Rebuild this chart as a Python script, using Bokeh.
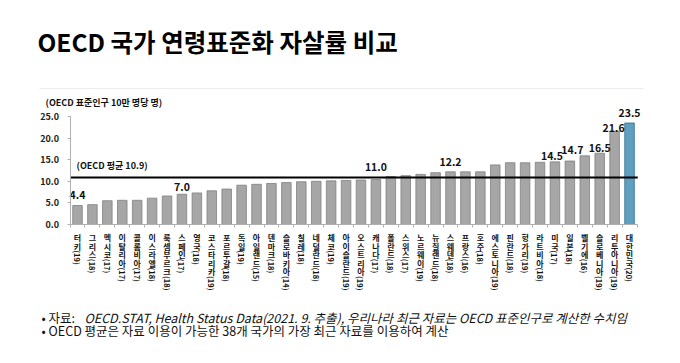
import re
import math
from bokeh.plotting import figure
from bokeh.models import LinearAxis, FixedTicker, NumeralTickFormatter, Range1d
from bokeh.core.properties import value
from bokeh.embed import file_html
from bokeh.resources import INLINE

# ---------------- data ----------------
title_text = "OECD 국가 연령표준화 자살률 비교"
unit_text = "(OECD 표준인구 10만 명당 명)"
countries = [
    "터키(19)", "그리스(18)", "멕시코(17)", "이탈리아(17)", "콜롬비아(17)", "이스라엘(18)",
    "룩셈부르크(18)", "스페인(17)", "영국(18)", "코스타리카(19)", "포르투갈(18)", "독일(19)",
    "아일랜드(15)", "덴마크(18)", "슬로바키아(14)", "칠레(18)", "네덜란드(18)", "체코(19)",
    "아이슬란드(19)", "오스트리아(19)", "캐나다(17)", "폴란드(18)", "스위스(17)", "노르웨이(19)",
    "뉴질랜드(18)", "스웨덴(18)", "프랑스(16)", "호주(18)", "에스토니아(19)", "핀란드(18)",
    "헝가리(19)", "라트비아(18)", "미국(17)", "일본(18)", "벨기에(16)", "슬로베니아(19)",
    "리투아니아(19)", "대한민국(20)",
]
rates = [
    4.4, 4.6, 5.5, 5.6, 5.6, 6.1,
    6.6, 7.0, 7.3, 7.8, 8.2, 9.1,
    9.3, 9.5, 9.7, 9.9, 10.0, 10.1,
    10.2, 10.3, 10.4, 11.1, 11.3, 11.6,
    12.0, 12.2, 12.2, 12.2, 13.8, 14.3,
    14.3, 14.4, 14.5, 14.7, 15.9, 16.5,
    21.6, 23.5,
]
oecd_avg = 10.9
oecd_avg_label = "(OECD 평균 10.9)"
highlight_country = "대한민국(20)"
labelled_countries = ["터키(19)", "스페인(17)", "캐나다(17)", "스웨덴(18)", "미국(17)",
                      "일본(18)", "슬로베니아(19)", "리투아니아(19)", "대한민국(20)"]
label_texts = ["4.4", "7.0", "11.0", "12.2", "14.5", "14.7", "16.5", "21.6", "23.5"]
y_ticks = [0, 5, 10, 15, 20, 25]
note_source_head = "• 자료:"
note_source_body = "OECD.STAT, Health Status Data(2021. 9. 추출), 우리나라 최근 자료는 OECD 표준인구로 계산한 수치임"
note_avg = "• OECD 평균은 자료 이용이 가능한 38개 국가의 가장 최근 자료를 이용하여 계산"

# ---------------- layout (page pixel coords, origin top-left) ----------------
W, H = 680, 363
X0, DX = 62.08, 14.92     # bar i (1-based) centre at X0 + DX*i
Y0, PPU = 224.0, 4.32     # value v at Y0 - PPU*v

# label placement styling: pixel shifts (x right, y up) of each value label
label_dx = [0, 0, 0, 0, -3, 2.5, 0, -1, 0]
label_up = [10, 7, 10, 10, 5.5, 10.5, 5.5, 3, 10]


def dx(px):
    return (px - X0) / DX


def dy(py):
    return (Y0 - py) / PPU


FONT = value("Noto Sans CJK KR")
n = len(countries)
xs = list(range(1, n + 1))

p = figure(width=W, height=H,
           x_range=Range1d(dx(0), dx(W)), y_range=Range1d(dy(H), dy(0)),
           output_backend="svg", toolbar_location=None, min_border=0,
           x_axis_location=None, y_axis_location=None)
p.outline_line_color = None
p.grid.grid_line_color = None
p.background_fill_color = "white"
p.border_fill_color = "white"

# y axis
yaxis = LinearAxis(fixed_location=0.5, bounds=(0, 25),
                   ticker=FixedTicker(ticks=y_ticks),
                   formatter=NumeralTickFormatter(format="0.0"))
yaxis.axis_line_color = "#b0b0b0"
yaxis.major_tick_line_color = "#b0b0b0"
yaxis.major_tick_in = 0
yaxis.major_tick_out = 3
yaxis.minor_tick_out = 0
yaxis.minor_tick_in = 0
yaxis.major_label_text_font = "Noto Sans CJK KR"
yaxis.major_label_text_font_style = "bold"
yaxis.major_label_text_font_size = "9px"
yaxis.major_label_text_color = "#222222"
yaxis.major_label_standoff = 8
p.add_layout(yaxis, "left")

# x axis (ticks between categories, no tick labels)
x_ticks = [i + 0.5 for i in range(n + 1)]
xaxis = LinearAxis(fixed_location=0, bounds=(0.5, n + 0.5),
                   ticker=FixedTicker(ticks=x_ticks),
                   major_label_overrides={t: "" for t in x_ticks})
xaxis.axis_line_color = "#b0b0b0"
xaxis.major_tick_line_color = "#b0b0b0"
xaxis.major_tick_in = 0
xaxis.major_tick_out = 3
xaxis.minor_tick_out = 0
xaxis.minor_tick_in = 0
p.add_layout(xaxis, "below")

# bars
fills = ["#5f9fc0" if c == highlight_country else "#a6a6a6" for c in countries]
edges = ["#2f6f90" if c == highlight_country else "#808080" for c in countries]
p.vbar(x=xs, top=rates, bottom=0, width=0.64, fill_color=fills, line_color=edges, line_width=0.8)

# OECD average line
p.segment(x0=[0.5], y0=[oecd_avg], x1=[n + 0.55], y1=[oecd_avg], line_color="black", line_width=2)
p.text(x=[dx(76)], y=[oecd_avg], text=[oecd_avg_label], y_offset=-5,
       text_font=FONT, text_font_style="bold", text_font_size="9px",
       text_color="#111111", text_align="left", text_baseline="bottom")

# value labels
lx = [countries.index(c) + 1 + ox / DX for c, ox in zip(labelled_countries, label_dx)]
ly = [float(t) + up / PPU for t, up in zip(label_texts, label_up)]
p.text(x=lx, y=ly, text=label_texts,
       text_font=FONT, text_font_style="bold", text_font_size="10.5px",
       text_color="#111111", text_align="center", text_baseline="middle")

# category labels: stacked upright Korean + rotated year suffix
ch_x, ch_y, ch_t = [], [], []
sf_x, sf_y, sf_t = [], [], []
TOP, PITCH = 231.5, 8.6
for i, c in enumerate(countries, start=1):
    m = re.match(r"^(.*?)(\(.*\))$", c)
    name, suffix = m.group(1), m.group(2)
    for k, ch in enumerate(name):
        ch_x.append(i)
        ch_y.append(dy(TOP + k * PITCH))
        ch_t.append(ch)
    sf_x.append(i)
    sf_y.append(dy(TOP + len(name) * PITCH + 1))
    sf_t.append(suffix)
p.text(x=ch_x, y=ch_y, text=ch_t, text_font=FONT, text_font_style="bold",
       text_font_size="8px", text_color="#111111", text_align="center", text_baseline="top")
p.text(x=sf_x, y=sf_y, text=sf_t, angle=-math.pi / 2, text_font=FONT, text_font_style="bold",
       text_font_size="7.5px", text_color="#111111", text_align="left", text_baseline="middle")

# title, unit, separator, notes
p.text(x=[dx(37)], y=[dy(41)], text=[title_text], text_font=FONT, text_font_style="bold",
       text_font_size="24.5px", text_color="#000000", text_align="left", text_baseline="middle")
p.segment(x0=[dx(39)], y0=[dy(88)], x1=[dx(643)], y1=[dy(88)], line_color="#ececec", line_width=1)
p.text(x=[dx(45)], y=[dy(102)], text=[unit_text], text_font=FONT, text_font_style="bold",
       text_font_size="9px", text_color="#111111", text_align="left", text_baseline="middle")
p.text(x=[dx(41)], y=[dy(317)], text=[note_source_head], text_font=FONT,
       text_font_size="12.5px", text_color="#111111", text_align="left", text_baseline="middle")
p.text(x=[dx(84)], y=[dy(317)], text=[note_source_body], text_font=FONT, text_font_style="italic",
       text_font_size="12.5px", text_color="#111111", text_align="left", text_baseline="middle")
p.text(x=[dx(41)], y=[dy(330)], text=[note_avg], text_font=FONT,
       text_font_size="12.5px", text_color="#111111", text_align="left", text_baseline="middle")

open("out.html", "w").write(file_html(p, INLINE))
